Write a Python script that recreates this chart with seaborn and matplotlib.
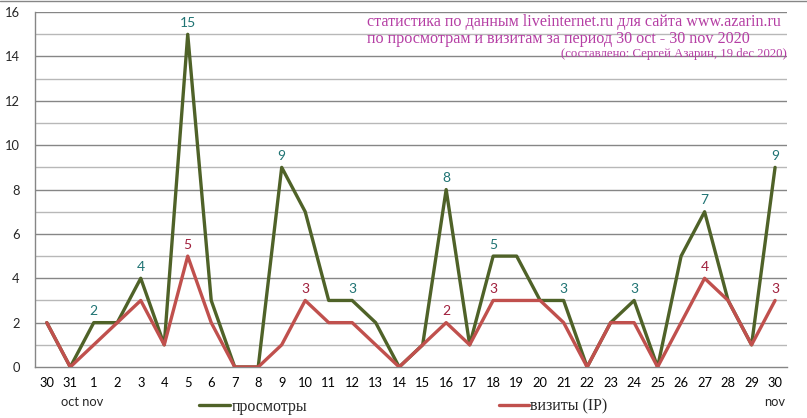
import numpy as np
import pandas as pd
import matplotlib.pyplot as plt
import matplotlib.lines as mlines
import seaborn as sns

# --- data (30 oct - 30 nov 2020) ---
days   = ['30', '31'] + [str(d) for d in range(1, 31)]
views  = [2, 0, 2, 2, 4, 1, 15, 3, 0, 0, 9, 7, 3, 3, 2, 0, 1, 8, 1, 5, 5, 3, 3, 0, 2, 3, 0, 5, 7, 3, 1, 9]
visits = [2, 0, 1, 2, 3, 1, 5, 2, 0, 0, 1, 3, 2, 2, 1, 0, 1, 2, 1, 3, 3, 3, 2, 0, 2, 2, 0, 2, 4, 3, 1, 3]

# indices of points that get a value label
views_lbl  = [2, 4, 6, 10, 13, 17, 19, 22, 25, 28, 31]
visits_lbl = [6, 11, 17, 19, 28, 31]

GREEN = '#4f6228'
RED   = '#c0504d'
GREEN_TXT = '#1f7373'
RED_TXT   = '#a01f3c'

df = pd.DataFrame({'pos': np.arange(len(days)), 'views': views, 'visits': visits})

sns.set_style('white')
plt.rcParams['font.family'] = ['Lato', 'DejaVu Sans']

fig = plt.figure(figsize=(8.07, 4.18), dpi=100)
ax = fig.add_axes([0.0434, 0.122, 0.9316, 0.849])

# grid: minor (1) lighter, major (2) darker
for yv in range(1, 17, 2):
    ax.axhline(yv, color='#b8b8b8', lw=1, zorder=0)
for yv in range(2, 17, 2):
    ax.axhline(yv, color='#868686', lw=1, zorder=0)

sns.lineplot(data=df, x='pos', y='views', color=GREEN, lw=2.4, ax=ax, sort=False, zorder=3)
sns.lineplot(data=df, x='pos', y='visits', color=RED, lw=2.4, ax=ax, sort=False, zorder=4)

for i in views_lbl:
    ax.text(i, views[i] + 0.25, str(views[i]), ha='center', va='bottom',
            color=GREEN_TXT, fontsize=10, zorder=5)
for i in visits_lbl:
    ax.text(i, visits[i] + 0.25, str(visits[i]), ha='center', va='bottom',
            color=RED_TXT, fontsize=10, zorder=5)

ax.set_xlim(-0.5, len(days) - 0.5)
ax.set_ylim(0, 16)
ax.set_yticks(range(0, 17, 2))
ax.set_xticks(np.arange(len(days)))
ax.set_xticklabels(days)
ax.set_xticks(np.arange(-0.5, len(days)), minor=True)
ax.tick_params(axis='x', which='major', length=0, pad=7, labelsize=9.3, colors='black')
ax.tick_params(axis='x', which='minor', length=5, color='#868686', width=1)
ax.tick_params(axis='y', length=5, color='#868686', labelsize=9.3, pad=6)
ax.set_xlabel('')
ax.set_ylabel('')
for side in ['top', 'right']:
    ax.spines[side].set_visible(False)
for side in ['left', 'bottom']:
    ax.spines[side].set_color('#868686')
    ax.spines[side].set_linewidth(1)

# month marks under the axis
ax.text(1.5, -1.58, 'oct nov', ha='center', va='center', fontsize=9.3)
ax.text(31, -1.58, 'nov', ha='center', va='center', fontsize=9.3)

# title block
ttl = dict(color='#b53ea4', family=['Liberation Serif', 'DejaVu Serif'])
fig.text(0.455, 0.938, 'статистика по данным liveinternet.ru для сайта www.azarin.ru',
         fontsize=11.6, ha='left', **ttl)
fig.text(0.455, 0.896, 'по просмотрам и визитам за период 30 oct - 30 nov 2020',
         fontsize=11.6, ha='left', **ttl)
fig.text(0.975, 0.863, '(составлено: Сергей Азарин, 19 dec 2020)', fontsize=9.2,
         ha='right', **ttl)

# frame line at the very top
fig.add_artist(mlines.Line2D([0, 1], [0.998, 0.998], color='#868686', lw=1))

h1 = mlines.Line2D([], [], color=GREEN, lw=2.4)
h2 = mlines.Line2D([], [], color=RED, lw=2.4)
fig.legend([h1, h2], ['просмотры', 'визиты (IP)'], loc='center',
           bbox_to_anchor=(0.5, 0.027), ncol=2, frameon=False,
           handlelength=1.9, handletextpad=0.1, columnspacing=12,
           prop={'family': ['Liberation Serif', 'DejaVu Serif'], 'size': 11.5})

fig.savefig('out.png', dpi=100)
